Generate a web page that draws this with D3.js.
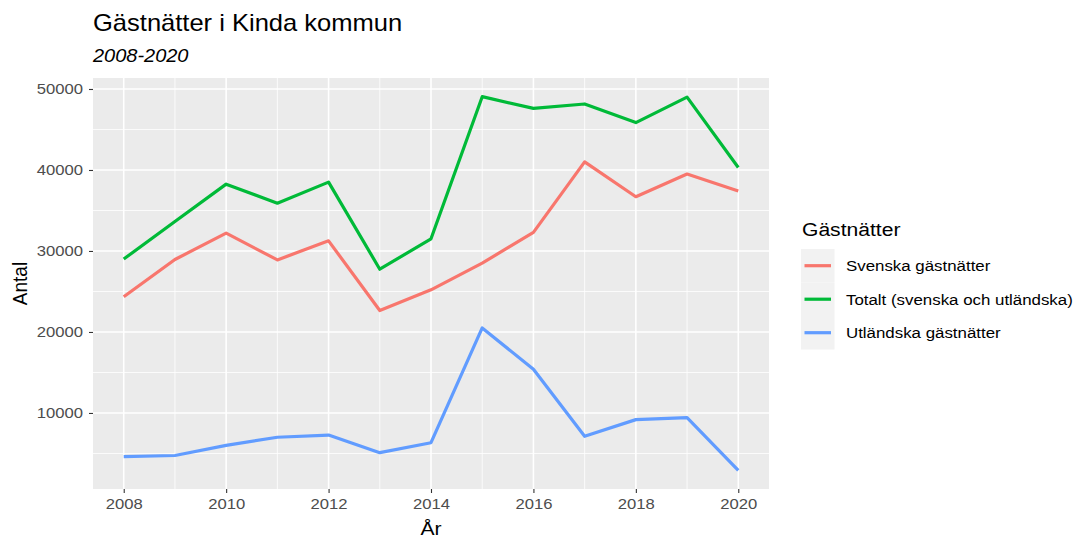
<!DOCTYPE html>
<html>
<head>
<meta charset="utf-8">
<script src="https://cdn.jsdelivr.net/npm/d3@7"></script>
<style>
  body { margin: 0; background: #fff; }
  text { font-family: "Liberation Sans", Arial, sans-serif; }
</style>
</head>
<body>
<div id="chart"></div>
<script>
// values
const years = [2008, 2009, 2010, 2011, 2012, 2013, 2014, 2015, 2016, 2017, 2018, 2019, 2020];
const svenska = [24350, 28950, 32200, 28900, 31250, 22650, 25200, 28500, 32300, 41000, 36700, 39500, 37400];
const totalt = [29000, 33650, 38250, 35900, 38500, 27750, 31500, 49050, 47600, 48150, 45850, 49000, 40300];
const utlandska = [4600, 4750, 6000, 7000, 7270, 5100, 6330, 20500, 15400, 7120, 9180, 9430, 2920];

const seriesNames = ['Svenska gästnätter', 'Totalt (svenska och utländska)', 'Utländska gästnätter'];
const seriesColors = ['#F8766D', '#00BA38', '#619CFF'];
const seriesValues = [svenska, totalt, utlandska];

const xTicks = [2008, 2010, 2012, 2014, 2016, 2018, 2020];
const xMinor = [2009, 2011, 2013, 2015, 2017, 2019];
const yTicks = [10000, 20000, 30000, 40000, 50000];
const yMinor = [5000, 15000, 25000, 35000, 45000];

const width = 1078, height = 538;
const panel = { left: 93, right: 769, top: 78, bottom: 489 };
// the reference text looks a bit wider than it is tall
const SX = 1.11;

const svg = d3.select("#chart").append("svg")
  .attr("width", width).attr("height", height);

function addText(g, x, y, str, size) {
  return g.append("text")
    .attr("transform", `translate(${x},${y}) scale(${SX},1)`)
    .text(str).style("font-size", size + "px").attr("fill", "#000");
}

// ggplot style 5% expansion
const xExt = d3.extent(years);
const xPad = (xExt[1] - xExt[0]) * 0.05;
const x = d3.scaleLinear().domain([xExt[0] - xPad, xExt[1] + xPad]).range([panel.left, panel.right]);

const allVals = svenska.concat(totalt, utlandska);
const yExt = d3.extent(allVals);
const yPad = (yExt[1] - yExt[0]) * 0.05;
const y = d3.scaleLinear().domain([yExt[0] - yPad, yExt[1] + yPad]).range([panel.bottom, panel.top]);

svg.append("rect")
  .attr("x", panel.left).attr("y", panel.top)
  .attr("width", panel.right - panel.left).attr("height", panel.bottom - panel.top)
  .attr("fill", "#EBEBEB");

const grid = svg.append("g");
yMinor.forEach(v => grid.append("line").attr("x1", panel.left).attr("x2", panel.right)
  .attr("y1", y(v)).attr("y2", y(v)).attr("stroke", "#fff").attr("stroke-width", 0.8));
xMinor.forEach(v => grid.append("line").attr("y1", panel.top).attr("y2", panel.bottom)
  .attr("x1", x(v)).attr("x2", x(v)).attr("stroke", "#fff").attr("stroke-width", 0.8));
yTicks.forEach(v => grid.append("line").attr("x1", panel.left).attr("x2", panel.right)
  .attr("y1", y(v)).attr("y2", y(v)).attr("stroke", "#fff").attr("stroke-width", 1.6));
xTicks.forEach(v => grid.append("line").attr("y1", panel.top).attr("y2", panel.bottom)
  .attr("x1", x(v)).attr("x2", x(v)).attr("stroke", "#fff").attr("stroke-width", 1.6));

// axes
const xAxis = svg.append("g")
  .attr("transform", `translate(0,${panel.bottom})`)
  .call(d3.axisBottom(x).tickValues(xTicks).tickFormat(d3.format("d")).tickSize(4).tickPadding(5));
const yAxis = svg.append("g")
  .attr("transform", `translate(${panel.left},0)`)
  .call(d3.axisLeft(y).tickValues(yTicks).tickFormat(d3.format("d")).tickSize(4).tickPadding(4));
[xAxis, yAxis].forEach(a => {
  a.select(".domain").remove();
  a.selectAll(".tick line").attr("stroke", "#333").attr("stroke-width", 1.1);
  a.selectAll(".tick text").attr("fill", "#4D4D4D").style("font-size", "15px")
    .attr("transform", `scale(${SX},1)`);
});
yAxis.selectAll(".tick text").attr("x", -10 / SX);

// lines
const line = d3.line().x((d, i) => x(years[i])).y(d => y(d));
seriesValues.forEach((vals, k) => {
  svg.append("path").datum(vals)
    .attr("d", line)
    .attr("fill", "none")
    .attr("stroke", seriesColors[k])
    .attr("stroke-width", 3.2)
    .attr("stroke-linejoin", "round");
});

// titles
addText(svg, 93, 31, "Gästnätter i Kinda kommun", 23);
addText(svg, 93, 62, "2008-2020", 18).style("font-style", "italic");
addText(svg, (panel.left + panel.right) / 2, 535, "År", 19).attr("text-anchor", "middle");
svg.append("text")
  .attr("transform", `translate(27,${(panel.top + panel.bottom) / 2}) rotate(-90) scale(1,${SX})`)
  .attr("text-anchor", "middle").text("Antal").style("font-size", "19px");

// legend
const legend = svg.append("g").attr("transform", "translate(801,0)");
addText(legend, 1, 236, "Gästnätter", 19);
seriesNames.forEach((name, k) => {
  const top = 249 + k * 33.5;
  legend.append("rect").attr("x", 0).attr("y", top).attr("width", 33.5).attr("height", 33.5)
    .attr("fill", "#F2F2F2");
  legend.append("line").attr("x1", 3.5).attr("x2", 30).attr("y1", top + 16.7).attr("y2", top + 16.7)
    .attr("stroke", seriesColors[k]).attr("stroke-width", 3.2);
  addText(legend, 45, top + 16.7, name, 15.2).attr("dy", "0.36em");
});
</script>
</body>
</html>
